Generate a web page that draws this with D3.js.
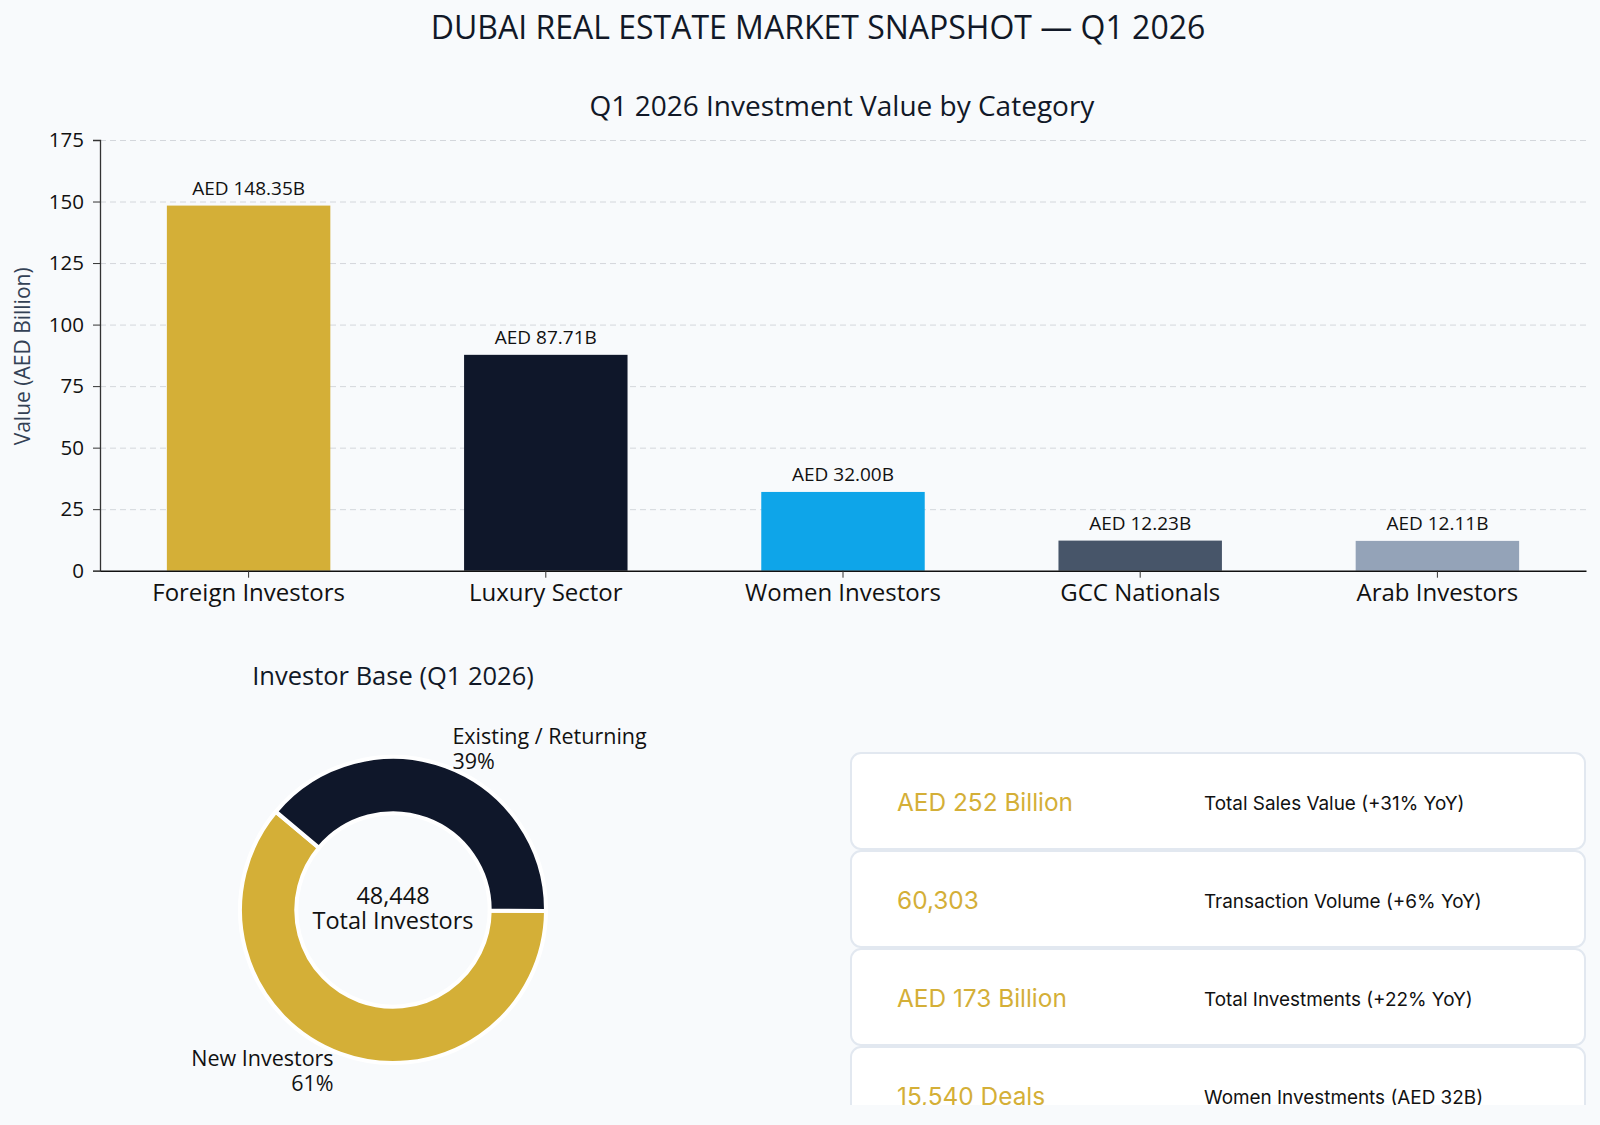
<!DOCTYPE html>
<html>
<head>
<meta charset="utf-8">
<script src="https://cdn.jsdelivr.net/npm/d3@7"></script>
<style>
  html, body { margin: 0; padding: 0; background: #f8fafc; }
  svg { display: block; font-family: "Open Sans", sans-serif; }
  .card text { font-family: Inter, sans-serif; }
  .grid line { stroke: #d4d7dc; stroke-dasharray: 6,4; }
  .grid .domain { display: none; }
</style>
</head>
<body>
<div id="chart"></div>
<script>
// bar chart data
var categories = ["Foreign Investors", "Luxury Sector", "Women Investors", "GCC Nationals", "Arab Investors"];
var values = [148.35, 87.71, 32.00, 12.23, 12.11];
var barColors = ["#d4af37", "#0f172a", "#0ea5e9", "#475569", "#94a3b8"];
var yTicks = [0, 25, 50, 75, 100, 125, 150, 175];

// donut data
var investorTypes = ["New Investors", "Existing / Returning"];
var investorShares = [61, 39];
var donutColors = ["#d4af37", "#0f172a"];
var totalInvestors = "48,448";

// KPI cards
var kpiValues = ["AED 252 Billion", "60,303", "AED 173 Billion", "15,540 Deals"];
var kpiLabels = ["Total Sales Value (+31% YoY)", "Transaction Volume (+6% YoY)", "Total Investments (+22% YoY)", "Women Investments (AED 32B)"];

function drawDashboard() {

	var width = 1600, height = 1125;

	var svg = d3.select("#chart").append("svg")
		.attr("width", width)
		.attr("height", height);

	svg.append("rect")
		.attr("width", width)
		.attr("height", height)
		.attr("fill", "#f8fafc");

	// main title
	svg.append("text")
		.attr("x", 818)
		.attr("y", 39)
		.attr("text-anchor", "middle")
		.style("font-size", "32px")
		.attr("fill", "#111827")
		.text("DUBAI REAL ESTATE MARKET SNAPSHOT — Q1 2026");

	//---- Bar chart ----
	var plotLeft = 100, plotRight = 1586, plotTop = 140, plotBottom = 570.7;

	var xScale = d3.scaleBand()
		.domain(categories)
		.range([plotLeft, plotRight])
		.paddingInner(0.45)
		.paddingOuter(0.225);

	var yScale = d3.scaleLinear()
		.domain([0, 175])
		.range([plotBottom, plotTop]);

	svg.append("text")
		.attr("x", 842)
		.attr("y", 116)
		.attr("text-anchor", "middle")
		.style("font-size", "28px")
		.attr("fill", "#111827")
		.text("Q1 2026 Investment Value by Category");

	// gridlines
	svg.append("g")
		.attr("class", "grid")
		.attr("transform", `translate(${plotLeft},0)`)
		.call(d3.axisLeft(yScale).tickValues(yTicks.slice(1)).tickSize(-(plotRight - plotLeft)).tickFormat(""));

	var yAxis = svg.append("g")
		.attr("transform", `translate(${plotLeft},0)`)
		.call(d3.axisLeft(yScale).tickValues(yTicks).tickSize(7).tickPadding(9));
	yAxis.selectAll("text").style("font-size", "20.5px").style("font-family", "Open Sans").attr("fill", "#111");
	yAxis.select(".domain").attr("stroke", "#333").attr("stroke-width", 1.3);
	yAxis.selectAll(".tick line").attr("stroke", "#333");

	svg.append("text")
		.attr("transform", `translate(30,${(plotTop + plotBottom) / 2 + 1}) rotate(-90)`)
		.attr("text-anchor", "middle")
		.style("font-size", "21px")
		.attr("fill", "#334155")
		.text("Value (AED Billion)");

	svg.selectAll(".bar")
		.data(values)
		.enter()
		.append("rect")
		.attr("class", "bar")
		.attr("x", function(d, i) { return xScale(categories[i]); })
		.attr("y", function(d) { return yScale(d); })
		.attr("width", xScale.bandwidth())
		.attr("height", function(d) { return plotBottom - yScale(d); })
		.attr("fill", function(d, i) { return barColors[i]; });

	svg.selectAll(".bar_label")
		.data(values)
		.enter()
		.append("text")
		.attr("class", "bar_label")
		.attr("x", function(d, i) { return xScale(categories[i]) + xScale.bandwidth() / 2; })
		.attr("y", function(d) { return yScale(d) - 11; })
		.attr("text-anchor", "middle")
		.style("font-size", "19px")
		.attr("fill", "#111")
		.text(function(d) { return "AED " + d.toFixed(2) + "B"; });

	var xAxis = svg.append("g")
		.attr("transform", `translate(0,${plotBottom})`)
		.call(d3.axisBottom(xScale).tickSize(7).tickPadding(6).tickSizeOuter(0));
	xAxis.selectAll("text").style("font-size", "24px").style("font-family", "Open Sans").attr("fill", "#111");
	xAxis.select(".domain").attr("stroke", "#111").attr("stroke-width", 1.5);
	xAxis.selectAll(".tick line").attr("stroke", "#333");

	//---- Donut ----
	var cx = 393, cy = 910, rOuter = 153, rInner = 96.7;
	var deg = Math.PI / 180;

	svg.append("text")
		.attr("x", cx)
		.attr("y", 685)
		.attr("text-anchor", "middle")
		.style("font-size", "25.5px")
		.attr("fill", "#111827")
		.text("Investor Base (Q1 2026)");

	var pie = d3.pie()
		.sort(null)
		.startAngle(-50 * deg)
		.endAngle(-410 * deg);

	var arc = d3.arc().innerRadius(rInner).outerRadius(rOuter);

	var donut = svg.append("g").attr("transform", `translate(${cx},${cy})`);
	var slices = pie(investorShares);

	donut.selectAll("path")
		.data(slices)
		.enter()
		.append("path")
		.attr("d", arc)
		.attr("fill", function(d, i) { return donutColors[i]; })
		.attr("stroke", "#fff")
		.attr("stroke-width", 4);

	var labelR = 172;
	var labels = donut.selectAll(".slice_label")
		.data(slices)
		.enter()
		.append("text")
		.attr("class", "slice_label")
		.style("font-size", "21.5px")
		.attr("fill", "#111")
		.attr("text-anchor", function(d) {
			var a = (d.startAngle + d.endAngle) / 2;
			return Math.sin(a) < 0 ? "end" : "start";
		});

	labels.each(function(d, i) {
		var a = (d.startAngle + d.endAngle) / 2;
		var x = labelR * Math.sin(a), y = -labelR * Math.cos(a);
		var t = d3.select(this);
		t.append("tspan").attr("x", x).attr("y", y - 12.5 + 7.5).text(investorTypes[i]);
		t.append("tspan").attr("x", x).attr("y", y + 12.5 + 7.5).text(investorShares[i] + "%");
	});

	donut.append("text")
		.attr("text-anchor", "middle")
		.style("font-size", "23.5px")
		.attr("fill", "#111")
		.selectAll("tspan")
		.data([totalInvestors, "Total Investors"])
		.enter()
		.append("tspan")
		.attr("x", 0)
		.attr("y", function(d, i) { return -14 + 8 + i * 25; })
		.text(function(d) { return d; });

	//---- KPI cards ----
	svg.append("clipPath")
		.attr("id", "cardClip")
		.append("rect")
		.attr("x", 0).attr("y", 0)
		.attr("width", width).attr("height", 1105);

	var cardY = d3.scaleLinear().domain([0, 1]).range([753, 851]);
	var cards = svg.append("g").attr("clip-path", "url(#cardClip)");

	var card = cards.selectAll(".card")
		.data(kpiValues)
		.enter()
		.append("g")
		.attr("class", "card")
		.attr("transform", function(d, i) { return `translate(851,${cardY(i)})`; });

	card.append("rect")
		.attr("width", 734)
		.attr("height", 96)
		.attr("rx", 10)
		.attr("fill", "#fff")
		.attr("stroke", "#e2e8f0")
		.attr("stroke-width", 2);

	card.append("text")
		.attr("x", 46)
		.attr("y", 58)
		.style("font-size", "24.4px")
		.attr("fill", "#d4af37")
		.text(function(d) { return d; });

	card.append("text")
		.attr("x", 353)
		.attr("y", 57)
		.style("font-size", "18.9px")
		.attr("fill", "#111")
		.text(function(d, i) { return kpiLabels[i]; });
}

drawDashboard();
</script>
</body>
</html>
